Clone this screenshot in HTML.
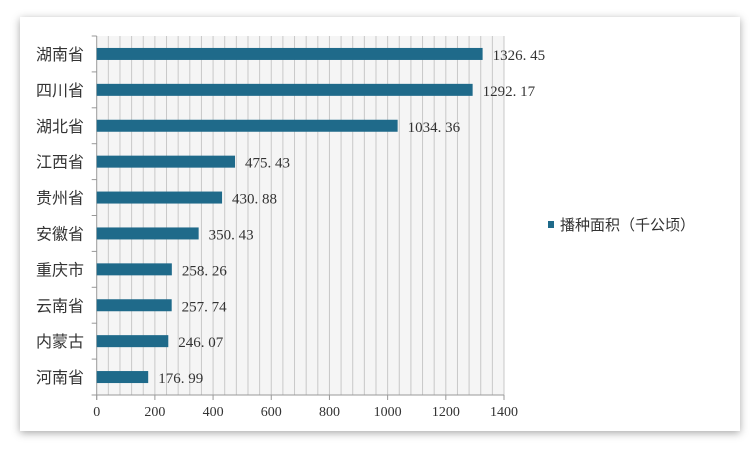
<!DOCTYPE html>
<html><head><meta charset="utf-8"><style>
body{margin:0;background:#fff;width:750px;height:451px;overflow:hidden;font-family:"Liberation Sans","Noto Sans CJK SC",sans-serif}
#card{position:absolute;left:20px;top:17px;width:720px;height:414px;background:#fff;box-shadow:0 2px 8px rgba(0,0,0,.35)}
</style></head><body>
<div id="card"></div>
<svg id="chart" width="750" height="451" style="position:absolute;left:0;top:0"></svg>
<script>
const categories=["湖南省","四川省","湖北省","江西省","贵州省","安徽省","重庆市","云南省","内蒙古","河南省"];
const values=[1326.45,1292.17,1034.36,475.43,430.88,350.43,258.26,257.74,246.07,176.99];
const ticks=[0,200,400,600,800,1000,1200,1400];
const NS="http://www.w3.org/2000/svg";
const svg=document.getElementById('chart');
const x0=96.7,x1=504,yT=36,yB=395,xmax=1400;
const xs=v=>x0+(v/xmax)*(x1-x0);
const band=(yB-yT)/categories.length;
const yc=i=>yT+band*(i+0.5);
function mk(t,a,p){const e=document.createElementNS(NS,t);for(const k in a)e.setAttribute(k,a[k]);(p||svg).appendChild(e);return e;}
const bg=mk('rect',{x:x0,y:yT,width:x1-x0,height:yB-yT,fill:'#f5f5f5'});


for(let v=40;v<=xmax;v+=40){const g=mk('line',{x1:xs(v),x2:xs(v),y1:yT,y2:yB,stroke:'#c8c8c8','stroke-width':1});

}
mk('line',{x1:x0,x2:x0,y1:yT,y2:yB+5,stroke:'#999'});
mk('line',{x1:x0-5,x2:x1,y1:yB,y2:yB,stroke:'#999'});
for(let i=0;i<=categories.length;i++)mk('line',{x1:x0-5,x2:x0,y1:yT+band*i,y2:yT+band*i,stroke:'#999'});
ticks.forEach(t=>{mk('line',{x1:xs(t),x2:xs(t),y1:yB,y2:yB+5,stroke:'#999'});
const l=mk('text',{x:xs(t),y:yB+21,'text-anchor':'middle','font-size':14,fill:'#333','font-family':'Liberation Serif,serif'});l.textContent=t;

});
categories.forEach((c,i)=>{
const b=mk('rect',{x:x0,y:yc(i)-6,width:xs(values[i])-x0,height:12,fill:'#1f6a8a'});


const l=mk('text',{x:84,y:yc(i)+6,'text-anchor':'end','font-size':16,fill:'#333'});l.textContent=c;


const v=mk('text',{x:xs(values[i])+10,y:yc(i)+6,'font-size':15,fill:'#333','font-family':'Liberation Serif,serif'});v.textContent=values[i].toFixed(2).replace('.','. ');


});
const lm=mk('rect',{x:548,y:221,width:6,height:7,fill:'#1f6a8a'});


const lt=mk('text',{x:560,y:230,'font-size':15,fill:'#333'});lt.textContent='播种面积（千公顷）';


</script>
</body></html>
